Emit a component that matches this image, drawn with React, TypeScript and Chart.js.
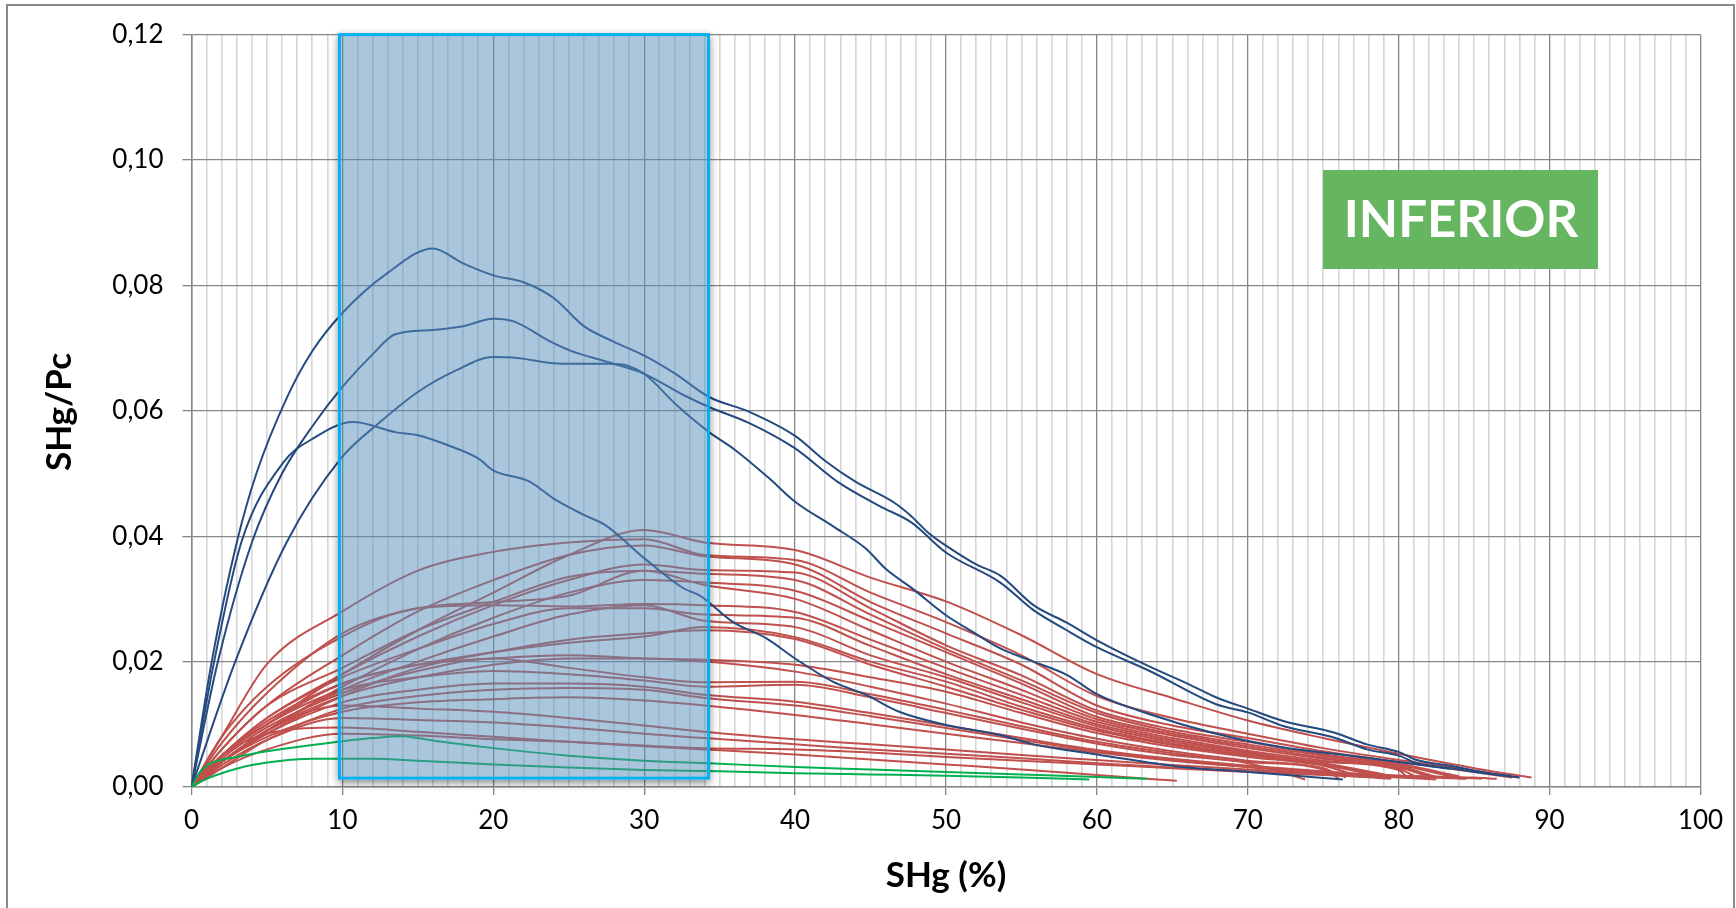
import React, { useEffect, useRef } from 'react';
import { Chart, registerables } from 'chart.js';

Chart.register(...registerables);

// ---------- axis / labels ----------
const X_MIN = 0;
const X_MAX = 100;
const Y_MIN = 0;
const Y_MAX = 0.12;
const Y_STEP = 0.02;
const X_TITLE = 'SHg (%)';
const Y_TITLE = 'SHg/Pc';
const TAG_TEXT = 'INFERIOR';

// highlighted band (data units)
const BAND_X = [9.8, 34.26];
const BAND_Y = [0.0014, 0.12];

// ---------- blue series ----------
const A_X = [0, 1.34, 3.0, 4.3, 6.4, 8, 10, 13, 16, 18, 20, 22, 24, 26, 28, 30, 32, 34.3, 37, 40, 42, 44, 46.6, 47.7, 48.8, 50, 52, 53.6, 55.8, 58, 60, 63.5, 66, 68, 70, 72.4, 75.7, 77.9, 80, 81.2, 83.4, 86, 87.5];
const A_Y = [0, 0.02, 0.039, 0.05, 0.0625, 0.0695, 0.0756, 0.082, 0.0859, 0.0835, 0.0816, 0.0805, 0.078, 0.0735, 0.071, 0.0688, 0.066, 0.0622, 0.0598, 0.056, 0.052, 0.0487, 0.0453, 0.0432, 0.0406, 0.0385, 0.0355, 0.0337, 0.029, 0.0262, 0.0234, 0.0192, 0.0165, 0.0142, 0.0125, 0.0105, 0.0087, 0.0068, 0.0056, 0.0043, 0.0034, 0.0022, 0.0017];

const B_X = [0, 1.75, 4.0, 6, 8, 10, 12, 13.5, 16, 18, 20, 21.3, 23.9, 25.1, 27.7, 30, 32.7, 34.3, 37, 40, 42.8, 45.6, 47.7, 50, 53.6, 55.8, 58, 60, 63.5, 67.9, 70, 72.4, 75.7, 77.9, 80, 81.2, 83.4, 86, 88];
const B_Y = [0, 0.02, 0.039, 0.05, 0.0575, 0.0638, 0.069, 0.0722, 0.0729, 0.0735, 0.0747, 0.0743, 0.0709, 0.0696, 0.0677, 0.0659, 0.0624, 0.0606, 0.058, 0.054, 0.0487, 0.0448, 0.0422, 0.0374, 0.0326, 0.0282, 0.025, 0.0223, 0.0185, 0.0132, 0.0119, 0.0097, 0.0079, 0.006, 0.005, 0.0038, 0.003, 0.0021, 0.0015];

const C_X = [0, 1.5, 3.3, 6.1, 8, 10.7, 13.5, 15, 17, 19, 20, 22.4, 24, 26, 27.4, 30, 32.6, 33.7, 35.9, 38.1, 40, 42.5, 44.7, 46.9, 50, 53.6, 55.8, 60, 65.7, 70.1, 76.3];
const C_Y = [0, 0.02, 0.039, 0.0518, 0.0555, 0.0582, 0.0566, 0.0561, 0.0545, 0.0524, 0.0505, 0.0487, 0.046, 0.0434, 0.0418, 0.0365, 0.0317, 0.0305, 0.0263, 0.0237, 0.0205, 0.0168, 0.0147, 0.012, 0.0099, 0.0083, 0.0068, 0.0052, 0.0032, 0.0024, 0.0012];

const D_X = [0, 2.9, 6.3, 9.9, 12.5, 15, 17.5, 20, 21.3, 24.6, 27.7, 28.9, 30, 32.2, 34.3, 36, 38.3, 40, 42.5, 44.7, 46, 47.8, 50, 51.8, 53.6, 55.8, 58, 60, 63.5, 67.9, 72.4, 76.8, 80, 83.4];
const D_Y = [0, 0.02, 0.039, 0.0524, 0.0582, 0.063, 0.0664, 0.0686, 0.0685, 0.0675, 0.0675, 0.0672, 0.0659, 0.0608, 0.0566, 0.0538, 0.0492, 0.0455, 0.0416, 0.038, 0.0348, 0.0316, 0.0274, 0.0247, 0.0221, 0.02, 0.0179, 0.0148, 0.0116, 0.0085, 0.0063, 0.005, 0.004, 0.0029];

// ---------- green series ----------
const G1_X = [0, 0.5, 1, 1.5, 3, 5, 8, 10, 12, 14, 15, 16, 20, 25, 30, 35, 40, 45, 50, 55, 60, 63.3];
const G1_Y = [0, 0.0022, 0.0034, 0.004, 0.0048, 0.0057, 0.0067, 0.0073, 0.0078, 0.0081, 0.0078, 0.0074, 0.0062, 0.005, 0.0042, 0.0037, 0.0032, 0.0028, 0.0024, 0.002, 0.0016, 0.0013];
const G2_X = [0, 1, 2, 4, 6, 8, 12, 15, 20, 25, 30, 35, 40, 45, 50, 55, 59.5];
const G2_Y = [0, 0.0013, 0.0022, 0.0035, 0.0042, 0.0045, 0.0045, 0.0042, 0.0036, 0.0031, 0.0027, 0.0025, 0.0022, 0.002, 0.0018, 0.0015, 0.0012];

// ---------- red series (values at RED_X, last value sits at the series end) ----------
const RED_X = [0, 2, 5, 10, 15, 20, 25, 30, 34, 40, 45, 50, 55, 60, 65, 70, 75, 80, 85];
const R01 = [0, .005, .010, .018, .025, .031, .037, .041, .039, .0378, .0334, .0296, .0242, .018, .0142, .0106, .0078, .0053, .003, .0015];
const R02 = [0, .008, .0196, .028, .0345, .0375, .039, .0395, .037, .0362, .031, .0263, .021, .0145, .011, .0085, .0062, .0043, .0026, .0015];
const R03 = [0, .006, .013, .021, .028, .033, .037, .0385, .0368, .0355, .0295, .0245, .0195, .013, .0098, .0078, .0057, .004, .0024, .0015];
const R04 = [0, .005, .011, .018, .024, .029, .033, .0355, .0346, .0342, .0285, .0226, .0178, .0122, .0092, .0072, .0052, .0037, .0017];
const R05 = [0, .007, .015, .0245, .0285, .0295, .0305, .0345, .034, .033, .0275, .022, .017, .0118, .0088, .0068, .005, .0035, .0017];
const R06 = [0, .004, .009, .016, .022, .027, .031, .033, .0326, .0313, .0265, .0215, .0165, .0112, .0085, .0065, .0047, .0033, .0016];
const R07 = [0, .006, .013, .019, .025, .0295, .0335, .0345, .0322, .030, .025, .020, .0155, .0108, .0082, .0062, .0045, .0031, .0017];
const R08 = [0, .008, .016, .024, .0285, .029, .0288, .0292, .029, .0279, .0235, .019, .0147, .0104, .0078, .0058, .0042, .0029, .0018];
const R09 = [0, .005, .011, .0175, .022, .026, .0285, .0285, .0275, .027, .0225, .018, .014, .010, .0075, .0056, .004, .0027, .0017];
const R10 = [0, .004, .009, .0155, .020, .024, .0275, .029, .0265, .0255, .021, .0175, .0135, .0097, .0072, .0054, .0038, .0018];
const R11 = [0, .005, .010, .0165, .0195, .0215, .023, .024, .0255, .0239, .020, .0168, .0128, .0093, .0069, .0052, .0037, .0017];
const R12 = [0, .004, .0085, .0145, .019, .0215, .0235, .0245, .025, .0236, .0195, .016, .0123, .009, .0067, .005, .0035, .0016];
const R13 = [0, .005, .0105, .0165, .0195, .0205, .021, .0205, .0203, .0195, .0175, .0152, .0118, .0086, .0064, .0048, .0034, .0016];
const R14 = [0, .004, .009, .0145, .0175, .0195, .0205, .0205, .020, .0184, .016, .0133, .0103, .0077, .0057, .0042, .003, .0015];
const R15 = [0, .0045, .0095, .015, .0185, .0205, .019, .0175, .0167, .0168, .0148, .0123, .0097, .0072, .0054, .004, .0028, .0014];
const R16 = [0, .005, .010, .0155, .0175, .0185, .018, .017, .016, .0163, .0143, .0118, .0093, .0069, .0051, .0038, .0012];
const R17 = [0, .004, .0085, .0135, .0155, .0165, .0165, .016, .0147, .0136, .0118, .0098, .0078, .0059, .0045, .0034, .0025, .0014];
const R18 = [0, .003, .0075, .0125, .0145, .0155, .0158, .0155, .0142, .013, .0113, .0094, .0075, .0057, .0043, .0032, .0024, .0017, .0013];
const R19 = [0, .004, .008, .012, .0135, .014, .0143, .0138, .013, .0115, .010, .0085, .007, .0055, .0042, .0032, .0024, .0018, .0014, .0013];
const R20 = [0, .004, .009, .013, .0125, .012, .011, .0098, .0088, .0076, .0068, .006, .0051, .0043, .0035, .0028, .0022, .0018, .0015, .0013];
const R21 = [0, .0035, .0075, .011, .0107, .0103, .0095, .0085, .0078, .0068, .006, .0053, .0046, .0038, .0031, .0025, .002, .0013];
const R22 = [0, .005, .0085, .0095, .0088, .008, .0072, .0065, .006, .0052, .0044, .0036, .0028, .0019, .001];
const R23 = [0, .003, .006, .0085, .0082, .0076, .0072, .0066, .0062, .006, .0055, .0048, .0042, .0036, .003, .0024, .0019, .0015, .0012];
const RED_SERIES = [R01, R02, R03, R04, R05, R06, R07, R08, R09, R10, R11, R12, R13, R14, R15, R16, R17, R18, R19, R20, R21, R22, R23];
const RED_END = [88.8, 88, 87.5, 84, 83.5, 82.5, 82, 81, 80.5, 79.5, 79.5, 79, 77.5, 76.5, 76, 73.8, 79.5, 84.5, 85.5, 86.5, 79.5, 65.3, 82.5];

const BLUE = '#254A80';
const RED = '#C0504D';
const GREEN = '#00B050';
const FONT = 'Lato, "Open Sans", sans-serif';

function pairs(xs: number[], ys: number[]) {
  return xs.map((x, i) => ({ x, y: ys[i] }));
}
function redPoints(ys: number[], endX: number) {
  return ys.map((y, i) => ({ x: i < ys.length - 1 ? RED_X[i] : endX, y }));
}

function line(data: { x: number; y: number }[], color: string) {
  return {
    data,
    borderColor: color,
    backgroundColor: color,
    borderWidth: 2,
    showLine: true,
    pointRadius: 0,
    fill: false,
    cubicInterpolationMode: 'monotone' as const,
  };
}

const framePlugin = {
  id: 'frame',
  beforeDraw(chart: any) {
    const { ctx, width, height } = chart;
    ctx.save();
    ctx.fillStyle = '#ffffff';
    ctx.fillRect(0, 0, width, height);
    ctx.strokeStyle = '#8a8a8a';
    ctx.lineWidth = 2;
    ctx.strokeRect(7, 5, width - 9, height + 20);
    ctx.restore();
  },
};

const bandPlugin = {
  id: 'band',
  afterDatasetsDraw(chart: any) {
    const { ctx, scales, width, height } = chart;
    const x0 = scales.x.getPixelForValue(BAND_X[0]);
    const x1 = scales.x.getPixelForValue(BAND_X[1]);
    const y0 = scales.y.getPixelForValue(BAND_Y[1]);
    const y1 = scales.y.getPixelForValue(BAND_Y[0]);
    // shadow outside the band only
    ctx.save();
    ctx.beginPath();
    ctx.rect(0, 0, width, height);
    ctx.rect(x0 - 1.5, y0 - 1.5, x1 - x0 + 3, y1 - y0 + 3);
    ctx.clip('evenodd');
    ctx.shadowColor = 'rgba(0,0,0,0.45)';
    ctx.shadowBlur = 8;
    ctx.shadowOffsetX = 0;
    ctx.shadowOffsetY = 3;
    ctx.fillStyle = '#ffffff';
    ctx.fillRect(x0 - 1.5, y0 - 1.5, x1 - x0 + 3, y1 - y0 + 3);
    ctx.restore();
    ctx.save();
    ctx.fillStyle = 'rgba(86,141,185,0.5)';
    ctx.fillRect(x0, y0, x1 - x0, y1 - y0);
    ctx.strokeStyle = '#00B0F0';
    ctx.lineWidth = 3;
    ctx.strokeRect(x0, y0, x1 - x0, y1 - y0);
    ctx.restore();
  },
  afterDraw(chart: any) {
    const { ctx, chartArea } = chart;
    ctx.save();
    // tag
    ctx.fillStyle = '#66B560';
    ctx.fillRect(1323, 170, 275, 99);
    ctx.fillStyle = '#ffffff';
    ctx.font = `bold 51px ${FONT}`;
    ctx.textAlign = 'center';
    ctx.textBaseline = 'middle';
    ctx.fillText(TAG_TEXT, 1461, 221);
    // axis titles
    ctx.fillStyle = '#000000';
    ctx.font = `bold 35px ${FONT}`;
    ctx.fillText(X_TITLE, (chartArea.left + chartArea.right) / 2, 876);
    ctx.translate(60, 412);
    ctx.rotate(-Math.PI / 2);
    ctx.fillText(Y_TITLE, 0, 0);
    ctx.restore();
  },
};

export default function App() {
  const ref = useRef<HTMLCanvasElement>(null);
  useEffect(() => {
    const canvas = ref.current;
    if (!canvas) return;
    const datasets: any[] = [
      line(pairs(G1_X, G1_Y), GREEN),
      line(pairs(G2_X, G2_Y), GREEN),
      line(pairs(A_X, A_Y), BLUE),
      line(pairs(B_X, B_Y), BLUE),
      line(pairs(C_X, C_Y), BLUE),
      line(pairs(D_X, D_Y), BLUE),
      ...RED_SERIES.map((ys, i) => line(redPoints(ys, RED_END[i]), RED)),
    ];
    const chart = new Chart(canvas, {
      type: 'scatter',
      data: { datasets },
      options: {
        responsive: false,
        animation: false,
        devicePixelRatio: 1,
        layout: { padding: { top: 30, right: 35.5, left: 0, bottom: 0 } },
        plugins: { legend: { display: false }, tooltip: { enabled: false } },
        scales: {
          x: {
            type: 'linear',
            min: X_MIN,
            max: X_MAX,
            afterFit: (s: any) => { s.height = 121; },
            ticks: {
              stepSize: 1,
              autoSkip: false,
              maxRotation: 0,
              minRotation: 0,
              padding: 10,
              color: '#000000',
              font: { family: FONT, size: 26 },
              callback: (v: any) => (Math.round(v) % 10 === 0 ? String(Math.round(v)) : ''),
            },
            grid: {
              color: (c: any) => (c.tick && Math.round(c.tick.value) % 10 === 0 ? '#878787' : '#d6d6d6'),
              lineWidth: (c: any) => (c.tick && Math.round(c.tick.value) % 10 === 0 ? 1.3 : 1.6),
              tickColor: (c: any) => (c.tick && Math.round(c.tick.value) % 10 === 0 ? '#878787' : 'rgba(0,0,0,0)'),
              tickLength: 8,
            },
            border: { color: '#878787', width: 1.5 },
          },
          y: {
            type: 'linear',
            min: Y_MIN,
            max: Y_MAX,
            afterFit: (s: any) => { s.width = 191.5; },
            ticks: {
              stepSize: Y_STEP,
              padding: 19,
              color: '#000000',
              font: { family: FONT, size: 26 },
              callback: (v: any) => Number(v).toFixed(2).replace('.', ','),
            },
            grid: { color: '#878787', lineWidth: 1.3, tickLength: 9, tickColor: '#878787' },
            border: { color: '#878787', width: 1.5 },
          },
        },
      },
      plugins: [framePlugin, bandPlugin],
    });
    return () => chart.destroy();
  }, []);
  return (
    <div style={{ position: 'absolute', left: 0, top: 0, width: 1736, height: 908, background: '#fff' }}>
      <canvas ref={ref} width={1736} height={908} style={{ display: 'block' }} />
    </div>
  );
}
